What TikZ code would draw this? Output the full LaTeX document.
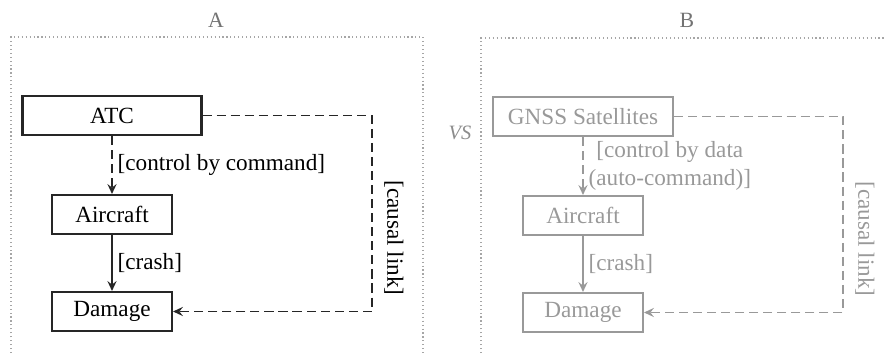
\documentclass[tikz,border=0pt]{standalone}
\usepackage{fontspec}
\setmainfont{Liberation Serif}
\usetikzlibrary{arrows.meta}

\begin{document}
\begin{tikzpicture}[font=\fontsize{16.5}{19.5}\selectfont,
    >={Stealth[length=7pt, width=6.5pt, inset=2.5pt]},
    box/.style={rectangle, draw=black!85, line width=1.5pt, minimum height=0.975cm,
                text centered, inner sep=0pt},
    boxB/.style={box, draw=black!40, text=black!40},
    ctl/.style={->, line width=1.4pt, draw=black!85},
    lnk/.style={->, line width=1.4pt, draw=black!85, dash pattern=on 6.5pt off 3.5pt},
    ctlB/.style={ctl, draw=black!40},
    lnkB/.style={lnk, draw=black!40},
    frame/.style={draw=black!35, line width=0.8pt, dotted}]

    \useasboundingbox (0,0) rectangle (22.125,8.825);

    % rahmen
    \draw [frame] (0.275,0) -- (0.275,7.9) -- (10.575,7.9) -- (10.575,0);
    \draw [frame] (12.025,0) -- (12.025,7.875) -- (22.125,7.875);
    \node (tA) [font=\fontsize{15.5}{17}\selectfont, text=black!55] at (5.4,8.325)   {A};
    \node (tB) [font=\fontsize{15.5}{17}\selectfont, text=black!55] at (17.175,8.325) {B};
    \node (vs) [font=\fontsize{14.5}{16}\selectfont\itshape, text=black!45] at (11.5,5.5) {VS};

    % A
    \node (atc)    [box, minimum width=4.475cm] at (2.8,5.9375) {ATC};
    \node (plane)  [box, minimum width=3.0cm]   at (2.8,3.4625) {Aircraft};
    \node (damage) [box, minimum width=3.0cm]   at (2.8,1.0375) {Damage};
    \coordinate (bendA) at (9.3,0);

    \draw [lnk] (atc) -- node[right] {[control by command]} (plane);
    \draw [ctl] (plane) -- node[right] {[crash]} (damage);
    \draw [lnk] (atc.east) -- (atc.east -| bendA)
        -- node[anchor=south, rotate=-90, pos=0.625, inner sep=8pt] {[causal link]} (damage.east -| bendA)
        -- (damage.east);

    % B
    \node (gnss)    [boxB, minimum width=4.5cm] at (14.575,5.9125) {GNSS Satellites};
    \node (planeB)  [boxB, minimum width=3.0cm] at (14.575,3.4375) {Aircraft};
    \node (damageB) [boxB, minimum width=3.0cm] at (14.575,1.0125) {Damage};
    \coordinate (bendB) at (21.075,0);

    \draw [lnkB] (gnss) -- node[right, align=center, text=black!40] {[control by data\\(auto-command)]} (planeB);
    \draw [ctlB] (planeB) -- node[right, text=black!40] {[crash]} (damageB);
    \draw [lnkB] (gnss.east) -- (gnss.east -| bendB)
        -- node[anchor=south, rotate=-90, pos=0.625, inner sep=8pt, text=black!40] {[causal link]} (damageB.east -| bendB)
        -- (damageB.east);
\end{tikzpicture}
\end{document}
